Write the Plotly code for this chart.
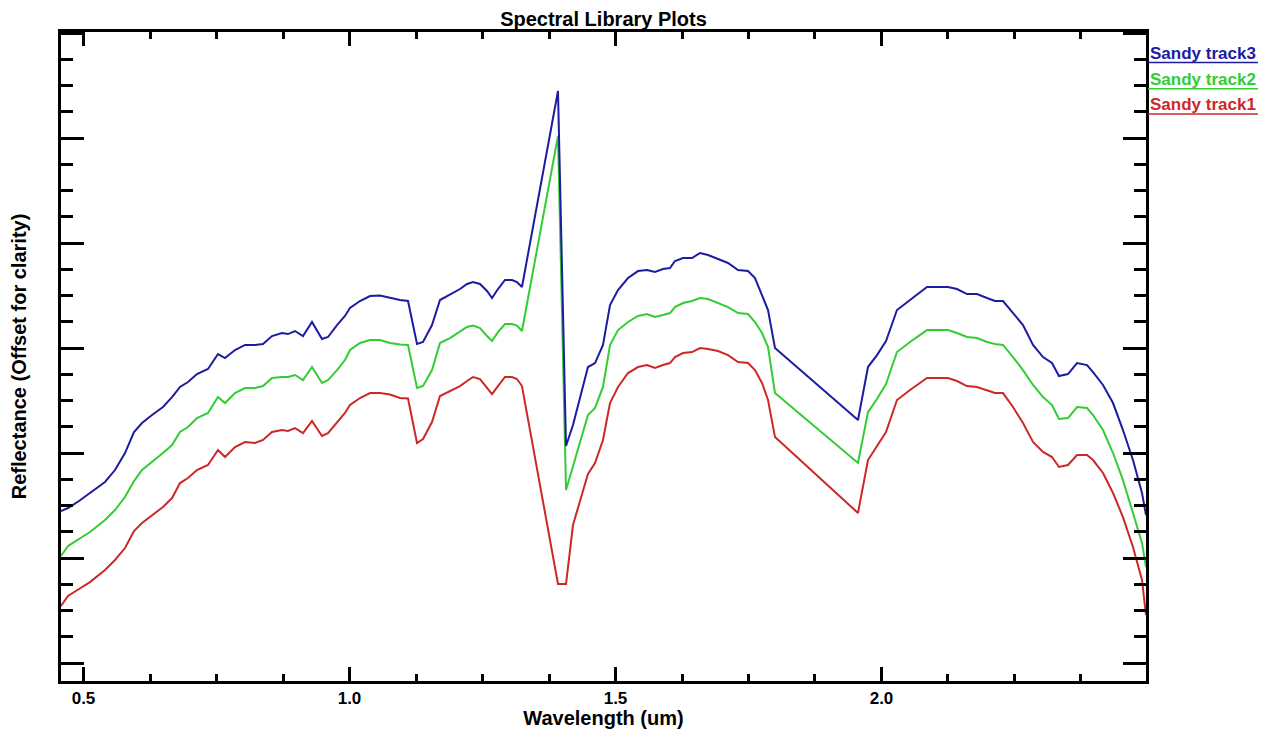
import plotly.graph_objects as go

# Wavelength (um)
wavelength = [0.4577, 0.4709, 0.4915, 0.5122, 0.5404, 0.5592, 0.5780, 0.5949, 0.6100, 0.6288,
              0.6494, 0.6664, 0.6814, 0.6964, 0.7133, 0.7340, 0.7528, 0.7660, 0.7848, 0.8036,
              0.8224, 0.8374, 0.8543, 0.8731, 0.8844, 0.8976, 0.9126, 0.9295, 0.9483, 0.9596,
              0.9765, 0.9915, 1.0009, 1.0197, 1.0385, 1.0573, 1.0761, 1.0949, 1.1100, 1.1269,
              1.1382, 1.1551, 1.1701, 1.1889, 1.2077, 1.2209, 1.2321, 1.2453, 1.2585, 1.2679,
              1.2791, 1.2923, 1.3055, 1.3148, 1.3242, 1.3919, 1.4070, 1.4201, 1.4333, 1.4483,
              1.4615, 1.4765, 1.4897, 1.5047, 1.5235, 1.5423, 1.5592, 1.5742, 1.5893, 1.6024,
              1.6118, 1.6269, 1.6438, 1.6588, 1.6739, 1.6927, 1.7115, 1.7303, 1.7491, 1.7622,
              1.7754, 1.7867, 1.7998, 1.9558, 1.9746, 1.9915, 2.0085, 2.0291, 2.0536, 2.0855,
              2.1250, 2.1419, 2.1607, 2.1795, 2.1983, 2.2133, 2.2284, 2.2472, 2.2660, 2.2848,
              2.3036, 2.3205, 2.3336, 2.3506, 2.3675, 2.3863, 2.3976, 2.4164, 2.4352, 2.4539,
              2.4727, 2.4897, 2.4972]

# Reflectance (offset for clarity)
track3 = [0.1448, 0.1476, 0.1543, 0.1619, 0.1724, 0.1838, 0.2000, 0.2200, 0.2286, 0.2362,
          0.2438, 0.2533, 0.2629, 0.2676, 0.2752, 0.2800, 0.2943, 0.2905, 0.2981, 0.3029,
          0.3029, 0.3038, 0.3114, 0.3143, 0.3133, 0.3162, 0.3114, 0.3248, 0.3086, 0.3105,
          0.3219, 0.3305, 0.3381, 0.3448, 0.3495, 0.3500, 0.3476, 0.3457, 0.3448, 0.3038,
          0.3057, 0.3219, 0.3457, 0.3510, 0.3562, 0.3610, 0.3629, 0.3610, 0.3543, 0.3476,
          0.3562, 0.3648, 0.3648, 0.3629, 0.3581, 0.5448, 0.2067, 0.2267, 0.2524, 0.2819,
          0.2857, 0.3029, 0.3410, 0.3552, 0.3667, 0.3733, 0.3743, 0.3724, 0.3752, 0.3762,
          0.3829, 0.3857, 0.3857, 0.3905, 0.3886, 0.3848, 0.3810, 0.3743, 0.3733, 0.3667,
          0.3505, 0.3362, 0.3000, 0.2314, 0.2819, 0.2933, 0.3067, 0.3362, 0.3457, 0.3581,
          0.3581, 0.3562, 0.3514, 0.3514, 0.3476, 0.3448, 0.3448, 0.3333, 0.3219, 0.3029,
          0.2914, 0.2857, 0.2733, 0.2752, 0.2857, 0.2838, 0.2771, 0.2648, 0.2476, 0.2219,
          0.1933, 0.1619, 0.1410]

track2 = [0.1019, 0.1114, 0.1181, 0.1248, 0.1362, 0.1457, 0.1581, 0.1733, 0.1838, 0.1914,
          0.2000, 0.2076, 0.2200, 0.2248, 0.2333, 0.2381, 0.2533, 0.2476, 0.2571, 0.2619,
          0.2619, 0.2638, 0.2714, 0.2724, 0.2724, 0.2743, 0.2695, 0.2819, 0.2667, 0.2695,
          0.2790, 0.2886, 0.2981, 0.3048, 0.3076, 0.3076, 0.3048, 0.3033, 0.3029, 0.2619,
          0.2638, 0.2790, 0.3048, 0.3095, 0.3152, 0.3200, 0.3214, 0.3190, 0.3114, 0.3067,
          0.3152, 0.3229, 0.3229, 0.3214, 0.3162, 0.5019, 0.1648, 0.1867, 0.2095, 0.2362,
          0.2429, 0.2629, 0.3029, 0.3171, 0.3248, 0.3305, 0.3324, 0.3295, 0.3314, 0.3333,
          0.3390, 0.3429, 0.3448, 0.3476, 0.3467, 0.3429, 0.3390, 0.3333, 0.3324, 0.3248,
          0.3143, 0.3010, 0.2571, 0.1905, 0.2390, 0.2514, 0.2657, 0.2962, 0.3057, 0.3171,
          0.3171, 0.3143, 0.3105, 0.3095, 0.3057, 0.3038, 0.3029, 0.2914, 0.2790, 0.2648,
          0.2533, 0.2457, 0.2324, 0.2333, 0.2438, 0.2429, 0.2362, 0.2219, 0.2000, 0.1743,
          0.1429, 0.1143, 0.0914]

track1 = [0.0543, 0.0638, 0.0705, 0.0771, 0.0886, 0.0981, 0.1095, 0.1257, 0.1333, 0.1410,
          0.1486, 0.1571, 0.1714, 0.1762, 0.1838, 0.1886, 0.2029, 0.1962, 0.2057, 0.2105,
          0.2095, 0.2124, 0.2200, 0.2219, 0.2210, 0.2238, 0.2190, 0.2305, 0.2162, 0.2190,
          0.2286, 0.2381, 0.2457, 0.2524, 0.2571, 0.2571, 0.2557, 0.2524, 0.2519, 0.2095,
          0.2133, 0.2295, 0.2543, 0.2590, 0.2638, 0.2686, 0.2724, 0.2705, 0.2619, 0.2562,
          0.2638, 0.2724, 0.2724, 0.2705, 0.2638, 0.0752, 0.0752, 0.1314, 0.1543, 0.1800,
          0.1905, 0.2124, 0.2476, 0.2629, 0.2762, 0.2819, 0.2838, 0.2810, 0.2838, 0.2857,
          0.2914, 0.2952, 0.2962, 0.3000, 0.2990, 0.2971, 0.2933, 0.2867, 0.2857, 0.2790,
          0.2667, 0.2505, 0.2152, 0.1429, 0.1933, 0.2067, 0.2200, 0.2505, 0.2600, 0.2714,
          0.2714, 0.2686, 0.2638, 0.2629, 0.2600, 0.2571, 0.2571, 0.2438, 0.2286, 0.2105,
          0.2010, 0.1962, 0.1867, 0.1886, 0.1981, 0.1981, 0.1933, 0.1810, 0.1619, 0.1390,
          0.1105, 0.0790, 0.0457]

series_names = ["Sandy track3", "Sandy track2", "Sandy track1"]
series_values = [track3, track2, track1]
series_colors = ["#1c1ca0", "#33cc33", "#cc2828"]

FONT = "Liberation Sans, Arial, Helvetica, sans-serif"

fig = go.Figure()
for name, vals, col in zip(series_names[::-1], series_values[::-1], series_colors[::-1]):
    fig.add_trace(go.Scatter(x=wavelength, y=vals, mode="lines", name=name,
                             line=dict(color=col, width=2), showlegend=False))

# legend as coloured, underlined labels on the right
legend_y = [0.9676, 0.927, 0.888]
for name, col, yy in zip(series_names, series_colors, legend_y):
    fig.add_annotation(text=name, xref="paper", yref="paper", x=1.0018, y=yy,
                       xanchor="left", yanchor="middle", showarrow=False,
                       font=dict(family=FONT, size=17, color=col, weight="bold"))
    fig.add_shape(type="line", xref="paper", yref="paper",
                  x0=1.0018, x1=1.1032, y0=yy - 0.0145, y1=yy - 0.0145,
                  line=dict(color=col, width=1.5))

axis_common = dict(showline=True, linewidth=3, linecolor="black", mirror="allticks",
                   showgrid=False, zeroline=False, ticks="inside", tickcolor="black",
                   automargin=False)

fig.update_xaxes(range=[0.4577, 2.4972], tick0=0.5, dtick=0.5, tickformat=".1f",
                 ticklen=14, tickwidth=2.5,
                 minor=dict(ticks="inside", tick0=0.5, dtick=0.125, ticklen=7,
                            tickwidth=2.5, tickcolor="black", showgrid=False),
                 tickfont=dict(family=FONT, size=17, color="black", weight="bold"),
                 title=dict(text="Wavelength (um)", standoff=0,
                            font=dict(family=FONT, size=20, color="black", weight="bold")),
                 **axis_common)
fig.update_yaxes(range=[-0.01714, 0.601], tick0=0, dtick=0.1, showticklabels=False,
                 ticklen=23, tickwidth=2.5,
                 minor=dict(ticks="inside", tick0=0, dtick=0.025, ticklen=12,
                            tickwidth=2.5, tickcolor="black", showgrid=False),
                 title=dict(text="Reflectance (Offset for clarity)", standoff=30,
                            font=dict(family=FONT, size=20, color="black", weight="bold")),
                 **axis_common)

# the page body adds an 8 px offset, so the figure is 8 px smaller in each direction
fig.update_layout(
    width=1259, height=721,
    margin=dict(l=53, r=121, t=24, b=48, autoexpand=False),
    paper_bgcolor="white", plot_bgcolor="white",
    title=dict(text="Spectral Library Plots", x=0.5, xref="paper", xanchor="center",
               y=1 - 11 / 721, yanchor="middle", automargin=False,
               font=dict(family=FONT, size=20, color="black", weight="bold")),
)

fig.write_html("out.html")
